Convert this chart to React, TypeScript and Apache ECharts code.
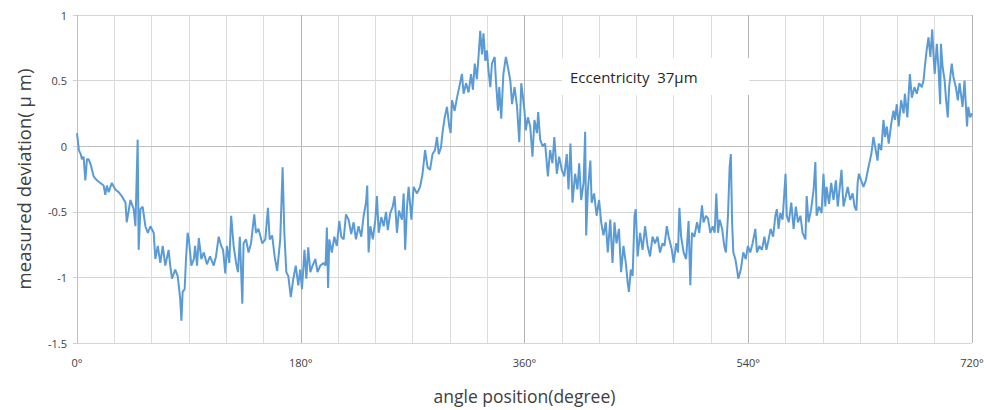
import React, { useEffect, useRef } from "react";
import * as echarts from "echarts";

// angle (degree), measured deviation (µm)
const trace0to120: [number, number][] = [
  [0, 0.10], [1.5, -0.03], [3, -0.06], [4, -0.10], [5.3, -0.08], [6.7, -0.26], [8, -0.10], [9.4, -0.10],
  [11, -0.14], [13.4, -0.23], [16, -0.26], [18.8, -0.28], [21.4, -0.30], [22.8, -0.37], [24, -0.30],
  [25.5, -0.35], [28, -0.28], [30.8, -0.33], [33.5, -0.35], [36, -0.38], [39, -0.43], [40, -0.58],
  [43, -0.41], [45.6, -0.48], [47, -0.61], [48.8, 0.05], [49.6, -0.79], [51, -0.48], [52.8, -0.46],
  [55, -0.61], [57, -0.66], [59, -0.61], [61.7, -0.66], [63, -0.86], [65, -0.76], [67, -0.89], [69, -0.76],
  [71, -0.91], [73.7, -0.79], [75, -0.91], [76.4, -1.01], [79, -0.94], [81, -0.99], [83, -1.16], [84, -1.33],
  [85, -1.11], [86.6, -1.09], [87.7, -0.86], [89, -0.66], [90, -0.71], [92, -0.91], [94, -0.86], [95, -0.76],
  [96.6, -0.91], [98, -0.70], [100, -0.86], [102, -0.81], [104.5, -0.90], [107, -0.84], [110, -0.91],
  [111.8, -0.84], [114, -0.69], [116, -0.76], [117.5, -0.79], [119.3, -0.97],
];
const trace120to240: [number, number][] = [
  [120.6, -0.76], [122.5, -0.89], [124, -0.53], [126, -0.76], [128, -0.89], [129.5, -0.96], [131, -0.69],
  [133, -1.20], [134, -0.74], [136, -0.71], [138, -0.81], [140, -0.74], [142.6, -0.52], [144, -0.66],
  [146, -0.63], [149, -0.74], [151.5, -0.71], [153.6, -0.47], [155, -0.71], [157, -0.68], [159, -0.84],
  [161, -0.95], [163.5, -0.71], [165.4, -0.16], [166.8, -0.66], [168.4, -0.96], [170, -0.99], [172, -1.15],
  [174, -1.01], [176, -0.91], [178, -1.06], [179.6, -0.94], [181, -1.09], [183, -0.79], [184.5, -1.01],
  [186, -0.77], [187.7, -0.96], [189.5, -0.91], [191.7, -0.86], [193.5, -0.96], [195.7, -0.91],
  [198.4, -0.89], [200, -0.91], [201, -0.62], [202, -1.08], [203, -0.71], [205, -0.81], [207, -0.69],
  [209, -0.76], [211, -0.57], [212.6, -0.69], [214.5, -0.71], [216.4, -0.52], [218.5, -0.56],
  [220.6, -0.67], [222.5, -0.58], [224.4, -0.71], [226.5, -0.61], [228.7, -0.69], [230.6, -0.53],
  [232.5, -0.43], [233.5, -0.30], [234.6, -0.81], [236, -0.61], [238, -0.71],
];
const trace240to360: [number, number][] = [
  [240, -0.56], [241.3, -0.38], [242.7, -0.66], [244.8, -0.54], [246.7, -0.61], [248.6, -0.50], [250, -0.64],
  [252, -0.51], [254, -0.46], [255.5, -0.38], [257.4, -0.66], [259, -0.49], [261.4, -0.56], [262.8, -0.36],
  [264, -0.79], [265.5, -0.46], [266.8, -0.31], [269, -0.56], [270.8, -0.31], [273.5, -0.36], [276, -0.31],
  [278, -0.21], [280, -0.03], [282, -0.16], [284, -0.18], [286, -0.06], [288, -0.03], [289.6, 0.07],
  [291, -0.06], [292.8, -0.01], [294, 0.10], [295.8, 0.22], [297.6, 0.30], [299.5, 0.15], [300.6, 0.10],
  [301.7, 0.35], [303.8, 0.27], [305.7, 0.37], [307.5, 0.45], [309.7, 0.55], [311, 0.40], [313, 0.48],
  [315, 0.41], [317, 0.55], [318.5, 0.43], [320, 0.63], [321.7, 0.51], [323, 0.68], [324.4, 0.88],
  [325.8, 0.70], [327, 0.86], [328.5, 0.65], [329.8, 0.73], [331, 0.58], [332.5, 0.45], [333.8, 0.63],
  [336, 0.68], [337, 0.50], [338.7, 0.27], [339.7, 0.45], [341.3, 0.21], [343, 0.55], [345, 0.68],
  [346.7, 0.60], [348.6, 0.50], [350, 0.32], [352, 0.45], [354, 0.30], [355.8, 0.03], [357.4, 0.48],
];
const trace360to480: [number, number][] = [
  [360, 0.27], [361, 0.12], [362.7, 0.22], [364.6, 0.15], [366.4, -0.08], [368, 0.20], [370, 0.10],
  [371, 0.26], [372.6, 0.05], [374.5, 0.0], [376.6, 0.02], [378.8, -0.23], [380.6, -0.03], [382.5, -0.13],
  [384, 0.07], [386, -0.21], [387.9, -0.08], [390, -0.18], [392, -0.23], [394, -0.06], [395.4, -0.33],
  [397, 0.02], [398.6, -0.43], [400.7, -0.21], [402.6, -0.33], [404, -0.13], [405.6, -0.41], [407.5, -0.28],
  [408.8, 0.11], [409.6, -0.68], [411, -0.33], [413, -0.11], [414, -0.43], [416, -0.36], [418, -0.53],
  [420, -0.41], [421.7, -0.58], [423.5, -0.68], [425.4, -0.58], [427, -0.81], [429, -0.56], [430.8, -0.89],
  [432.4, -0.58], [434, -0.74], [436, -0.63], [437.7, -0.96], [439.6, -0.76], [441.5, -0.89], [443, -1.04],
  [444, -1.11], [445.5, -0.94], [447, -0.99], [448.5, -0.53], [449.5, -0.48], [451, -0.84], [453, -0.66],
  [455, -0.79], [457, -0.61], [459, -0.76], [461, -0.84], [463, -0.69], [465, -0.74], [467, -0.69],
  [469, -0.81], [471, -0.74], [472.6, -0.76], [474.5, -0.61], [476, -0.69], [478.5, -0.79],
];
const trace480to600: [number, number][] = [
  [480, -0.89], [482, -0.74], [483.5, -0.81], [484.6, -0.47], [486, -0.69], [488, -0.81], [490, -0.86],
  [492, -0.57], [493.4, -1.06], [494.7, -0.66], [496.6, -0.69], [498.8, -0.58], [500.6, -0.66],
  [502.8, -0.45], [504, -0.58], [506, -0.53], [507.6, -0.55], [509.5, -0.66], [511.4, -0.61], [513, -0.66],
  [514.3, -0.36], [515.7, -0.66], [517, -0.56], [519, -0.63], [520.7, -0.76], [522, -0.81], [523.7, -0.53],
  [525, -0.16], [526, -0.06], [527, -0.58], [528, -0.81], [529.6, -0.86], [531, -0.94], [532, -1.01],
  [534, -0.94], [536, -0.81], [538, -0.86], [539.7, -0.76], [541.6, -0.81], [543.5, -0.74], [545.7, -0.63],
  [547, -0.81], [549, -0.76], [551, -0.79], [553, -0.69], [554.6, -0.79], [556.4, -0.71], [558, -0.63],
  [560, -0.69], [561.8, -0.53], [563, -0.48], [564.4, -0.63], [565.8, -0.51], [567.6, -0.56], [569, -0.36],
  [570, -0.21], [571, -0.53], [572.6, -0.58], [574.6, -0.43], [576.5, -0.63], [578.3, -0.46], [580, -0.58],
  [582, -0.53], [583.7, -0.66], [586, -0.71], [587, -0.38], [588.5, -0.58], [590.6, -0.48], [592.6, -0.33],
  [594, -0.12], [595, -0.53], [597, -0.46], [599, -0.51],
];
const trace600to720: [number, number][] = [
  [600.5, -0.21], [602, -0.46], [603, -0.31], [605, -0.44], [606.7, -0.28], [608.6, -0.41], [610.5, -0.26],
  [612, -0.46], [614, -0.28], [615, -0.18], [616.6, -0.46], [618.5, -0.38], [620, -0.31], [622, -0.41],
  [624, -0.36], [625.5, -0.46], [627, -0.49], [628, -0.28], [629, -0.21], [630.8, -0.26], [632.7, -0.31],
  [634.6, -0.26], [636.7, -0.16], [639, -0.06], [640.7, 0.07], [642, 0.0], [644, -0.11], [645, 0.02],
  [647, -0.03], [648.8, 0.20], [650, 0.07], [651.5, 0.15], [653, 0.02], [655, 0.17], [656.8, 0.27],
  [658, 0.20], [659.5, 0.32], [661, 0.15], [663, 0.35], [665, 0.25], [666, 0.40], [668, 0.22], [670, 0.55],
  [671.6, 0.37], [673.7, 0.45], [675.6, 0.40], [677.5, 0.48], [679.6, 0.45], [681, 0.50], [682, 0.60],
  [683.5, 0.73], [685, 0.83], [686.5, 0.68], [688, 0.89], [689, 0.70], [690, 0.55], [691.7, 0.78],
  [693, 0.60], [694.4, 0.32], [695, 0.78], [696.4, 0.60], [698, 0.50], [699, 0.37], [700.5, 0.22],
  [701.6, 0.45], [703.7, 0.63], [705, 0.53], [707, 0.45], [708.6, 0.35], [710, 0.48], [712.4, 0.30],
  [714, 0.50], [716, 0.15], [717, 0.30], [718.5, 0.22], [720, 0.25],
];

const annotationText = "Eccentricity  37μm";
const xName = "angle position(degree)";
const yName = "measured deviation( μ m)";

const FONT = "Open Sans";

export default function App() {
  const ref = useRef<HTMLDivElement>(null);
  useEffect(() => {
    if (!ref.current) return;
    const chart = echarts.init(ref.current, null, { renderer: "svg" });
    const data = [
      ...trace0to120,
      ...trace120to240,
      ...trace240to360,
      ...trace360to480,
      ...trace480to600,
      ...trace600to720,
    ];
    chart.setOption({
      animation: false,
      backgroundColor: "#ffffff",
      grid: { left: 77, right: 15, top: 15, bottom: 65, containLabel: false },
      xAxis: {
        type: "value",
        min: 0,
        max: 720,
        interval: 180,
        name: xName,
        nameLocation: "middle",
        nameGap: 44,
        nameTextStyle: { fontFamily: FONT, fontSize: 17.5, color: "#404040" },
        axisLine: { show: true, lineStyle: { color: "#bfbfbf", width: 1 } },
        axisTick: { show: true, length: 4, lineStyle: { color: "#bfbfbf" } },
        axisLabel: {
          formatter: (v: number) => `${v}°`,
          fontFamily: FONT,
          fontSize: 11,
          color: "#404040",
          margin: 14,
        },
        splitLine: { show: true, showMinLine: true, showMaxLine: true, lineStyle: { color: "#b4b4b4", width: 1 } },
        minorTick: { show: false, splitNumber: 6 },
        minorSplitLine: { show: true, lineStyle: { color: "#dcdcdc", width: 1 } },
      },
      yAxis: {
        type: "value",
        min: -1.5,
        max: 1,
        interval: 0.5,
        name: yName,
        nameLocation: "middle",
        nameGap: 44,
        nameRotate: 90,
        nameTextStyle: { fontFamily: FONT, fontSize: 18.5, color: "#404040" },
        axisLine: { show: true, lineStyle: { color: "#bfbfbf", width: 1 } },
        axisTick: { show: true, length: 4, lineStyle: { color: "#d0d0d0" } },
        axisLabel: {
          fontFamily: FONT,
          fontSize: 11,
          color: "#404040",
          margin: 10,
        },
        splitLine: { show: true, lineStyle: { color: "#d6d6d6", width: 1.2 } },
      },
      series: [
        {
          type: "line",
          data,
          showSymbol: false,
          symbol: "none",
          lineStyle: { color: "#5b9bd5", width: 2 },
          z: 3,
        },
      ],
      graphic: [
        {
          type: "text",
          x: 562,
          y: 58,
          z: 100,
          style: {
            text: annotationText,
            fontFamily: FONT,
            fontSize: 15,
            fill: "#262626",
            backgroundColor: "#ffffff",
            padding: [8, 52, 8, 8],
            lineHeight: 21,
          },
        },
      ],
    });
    return () => chart.dispose();
  }, []);
  return <div ref={ref} style={{ width: 987, height: 410, position: "absolute", left: 0, top: 0 }} />;
}
